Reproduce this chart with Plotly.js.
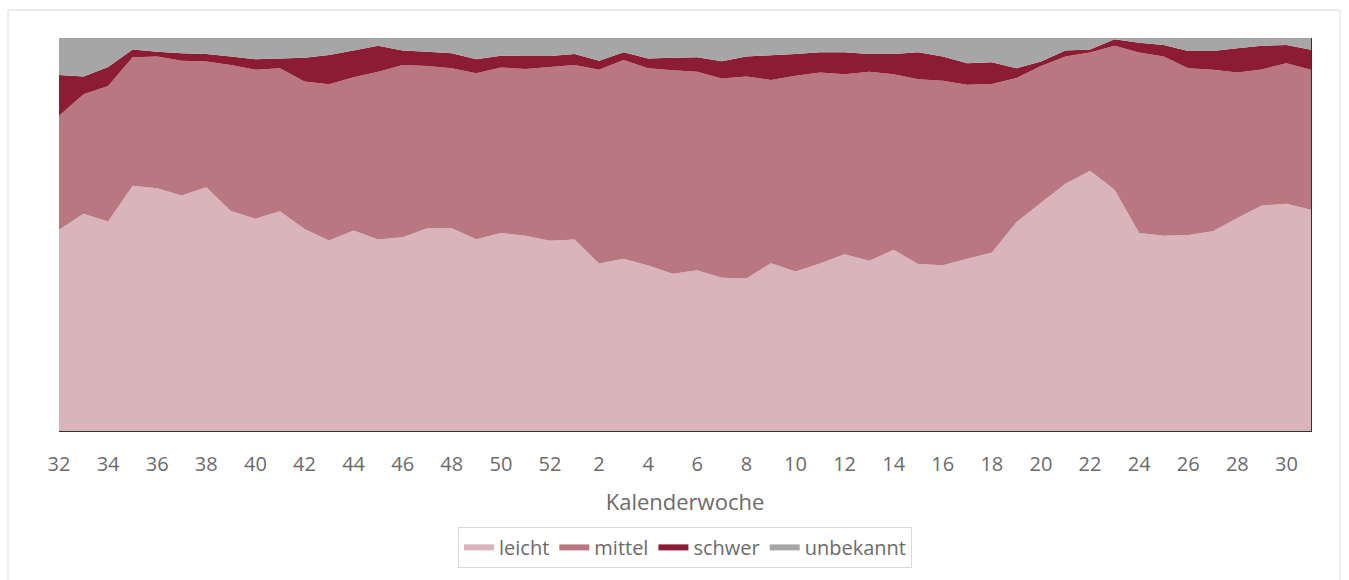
<!DOCTYPE html>
<html>
<head>
<meta charset="utf-8">
<script src="https://cdn.plot.ly/plotly-3.0.1.min.js"></script>
<style>
  html, body { margin: 0; padding: 0; background: #ffffff; }
  #chart { width: 1349px; height: 580px; }
</style>
</head>
<body>
<div id="chart"></div>
<script>
// Calendar weeks (week 32 of one year to week 31 of the next)
const weeks = ["32","33","34","35","36","37","38","39","40","41","42","43","44","45","46","47","48","49","50","51","52",
               "1","2","3","4","5","6","7","8","9","10","11","12","13","14","15","16","17","18","19","20","21","22","23","24","25","26","27","28","29","30","31"];
const tickLabels = ["32","34","36","38","40","42","44","46","48","50","52","2","4","6","8","10","12","14","16","18","20","22","24","26","28","30"];

// Shares in percent
const leicht = [51.2,55.3,53.3,62.4,61.8,59.9,62.0,56.0,54.0,55.9,51.4,48.5,51.0,
                48.7,49.3,51.6,51.6,48.8,50.4,49.7,48.4,48.7,42.6,43.8,42.1,40.0,
                40.9,39.0,38.8,42.7,40.6,42.6,45.0,43.3,46.1,42.5,42.2,43.8,45.4,
                53.1,58.1,62.9,66.2,61.4,50.4,49.7,49.9,50.8,54.2,57.4,57.8,56.3];
const mittel = [29.0,30.4,34.5,32.7,33.5,34.3,32.0,37.1,37.9,36.4,37.5,39.7,39.0,
                42.7,43.8,41.3,40.7,42.2,42.1,42.4,44.2,44.4,49.3,50.6,50.2,51.8,
                50.5,50.7,51.4,46.6,49.8,48.6,45.8,48.1,44.7,47.0,46.9,44.3,42.9,
                36.7,34.8,32.4,30.1,36.6,45.9,45.6,42.4,41.1,37.0,34.6,35.8,35.6];
const schwer = [10.4,4.5,4.8,2.0,1.2,1.9,1.9,2.2,2.7,2.5,6.1,7.5,6.8,
                6.6,3.7,3.6,3.8,3.6,3.0,3.3,2.8,2.8,2.3,2.0,2.5,3.2,
                3.7,4.4,5.1,6.3,5.5,5.2,5.6,4.5,5.1,6.9,6.2,5.5,5.5,
                2.5,1.1,1.5,0.8,1.7,2.5,2.9,4.4,4.8,6.2,6.0,4.6,5.1];
const unbekannt = [9.4,9.8,7.4,2.9,3.5,3.9,4.1,4.7,5.4,5.2,5.0,4.3,3.2,
                   2.0,3.2,3.5,3.9,5.4,4.5,4.6,4.6,4.1,5.8,3.6,5.2,5.0,
                   4.9,5.9,4.7,4.4,4.1,3.6,3.6,4.1,4.1,3.6,4.7,6.4,6.2,
                   7.7,6.0,3.2,2.9,0.3,1.2,1.8,3.3,3.3,2.6,2.0,1.8,3.0];

const seriesNames = ["leicht","mittel","schwer","unbekannt"];
const seriesColors = ["#D9B4BB","#B97782","#8B1C33","#A6A6A6"];
const seriesValues = [leicht, mittel, schwer, unbekannt];

const traces = seriesValues.map((vals, k) => ({
  type: "scatter",
  x: weeks,
  y: vals,
  name: seriesNames[k],
  stackgroup: "one",
  groupnorm: k === 0 ? "percent" : undefined,
  mode: "none",
  fillcolor: seriesColors[k],
  line: { width: 0, color: seriesColors[k] },
  hoverinfo: "x+y+name"
}));

const fontFam = "'Open Sans', 'DejaVu Sans', sans-serif";
const grey = "#6B6B6B";

const layout = {
  width: 1349,
  height: 580,
  margin: { l: 59, r: 38, t: 38, b: 149, pad: 0 },
  paper_bgcolor: "#ffffff",
  plot_bgcolor: "#ffffff",
  showlegend: true,
  font: { family: fontFam, color: grey },
  xaxis: {
    type: "category",
    range: [0, weeks.length - 1],
    tickmode: "array",
    tickvals: tickLabels,
    ticktext: tickLabels,
    ticks: "",
    ticklabelstandoff: 15,
    tickfont: { family: fontFam, size: 20, color: grey },
    showgrid: false,
    zeroline: false,
    showline: true,
    linecolor: "#333333",
    linewidth: 1,
    title: { text: "Kalenderwoche", font: { family: fontFam, size: 22, color: grey }, standoff: 18 },
    automargin: false,
    fixedrange: true
  },
  yaxis: {
    range: [0, 100],
    side: "right",
    showticklabels: false,
    ticks: "",
    showgrid: false,
    zeroline: false,
    showline: true,
    linecolor: "#333333",
    linewidth: 1,
    automargin: false,
    fixedrange: true
  },
  legend: {
    orientation: "h",
    x: 0.5,
    xanchor: "center",
    y: -0.244,
    yanchor: "top",
    traceorder: "normal",
    bordercolor: "#D9D9D9",
    borderwidth: 1,
    bgcolor: "#ffffff",
    itemwidth: 30,
    font: { family: fontFam, size: 20, color: grey }
  },
  shapes: [{
    type: "rect",
    xref: "paper", yref: "paper",
    x0: (8 - 59) / 1252, x1: (1340 - 59) / 1252,
    y0: (431 - 640) / 393, y1: (431 - 10) / 393,
    line: { color: "#D9D9D9", width: 1 },
    fillcolor: "rgba(0,0,0,0)",
    layer: "below"
  }]
};

Plotly.newPlot("chart", traces, layout, { displayModeBar: false });
</script>
</body>
</html>
